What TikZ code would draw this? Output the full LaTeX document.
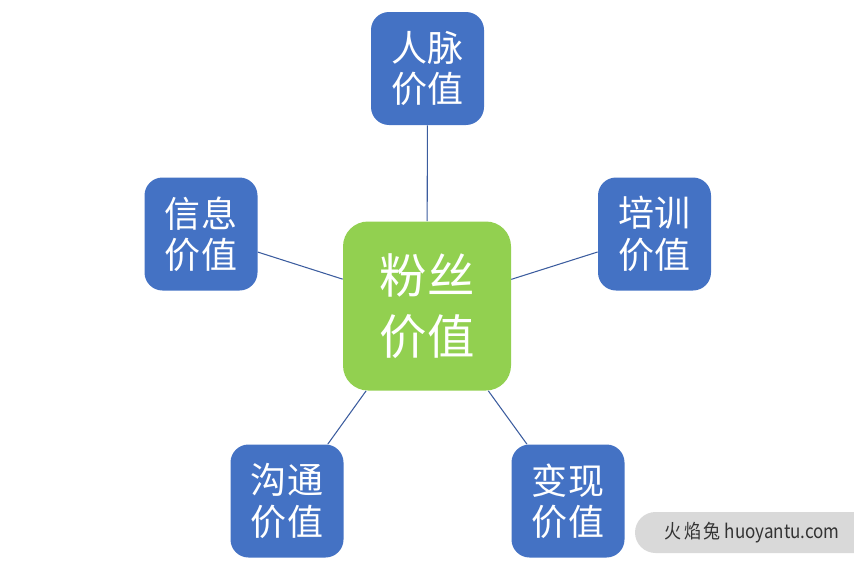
\documentclass[tikz,border=0pt]{standalone}
\usepackage{fontspec}
\setmainfont{Noto Sans CJK SC}
\usetikzlibrary{positioning}
\definecolor{leafblue}{HTML}{4472C4}
\definecolor{coregreen}{HTML}{92D050}
\definecolor{linkblue}{HTML}{3B5C9E}
\definecolor{markgray}{HTML}{D9D9D9}
\definecolor{marktext}{HTML}{333333}
\tikzset{
    core/.style = {rectangle, fill=coregreen, rounded corners=0.5cm,
        minimum width=3.36cm, minimum height=3.38cm, inner sep=0pt,
        text=white, align=center, font=\fontsize{27}{35}\selectfont},
    leaf/.style = {rectangle, fill=leafblue, rounded corners=0.36cm,
        minimum width=2.26cm, minimum height=2.26cm, inner sep=0pt,
        text=white, align=center, font=\fontsize{20.5}{23.5}\selectfont},
    link/.style = {draw=linkblue, line width=0.6pt},
    marktag/.style = {text=marktext, font=\fontsize{11}{13}\selectfont, xscale=0.88, transform shape}
}
\begin{document}
\begin{tikzpicture}[auto, node distance=2cm]
    \useasboundingbox (0,0) rectangle (17.08,11.36);
    \node [core] (fans) at (8.54,5.24) {粉丝\\价值};
    \node [leaf] (renmai) at (8.55,9.99) {人脉\\价值};
    \node [leaf] (xinxi) at (4.02,6.68) {信息\\价值};
    \node [leaf] (peixun) at (13.09,6.68) {培训\\价值};
    \node [leaf] (goutong) at (5.74,1.34) {沟通\\价值};
    \node [leaf] (bianxian) at (11.36,1.34) {变现\\价值};
    \draw [link] (fans) -- (renmai);
    \draw [link] (fans) -- (xinxi);
    \draw [link] (fans) -- (peixun);
    \draw [link] (fans) -- (goutong);
    \draw [link] (fans) -- (bianxian);
    \begin{scope}
        \clip (0,0) rectangle (17.08,11.36);
        \fill [markgray, rounded corners=0.41cm] (12.7,0.3) rectangle (17.6,1.12);
    \end{scope}
    \node [marktag] (mark) at (15.04,0.71) {火\,焰\,兔 huoyantu.com};
\end{tikzpicture}
\end{document}
